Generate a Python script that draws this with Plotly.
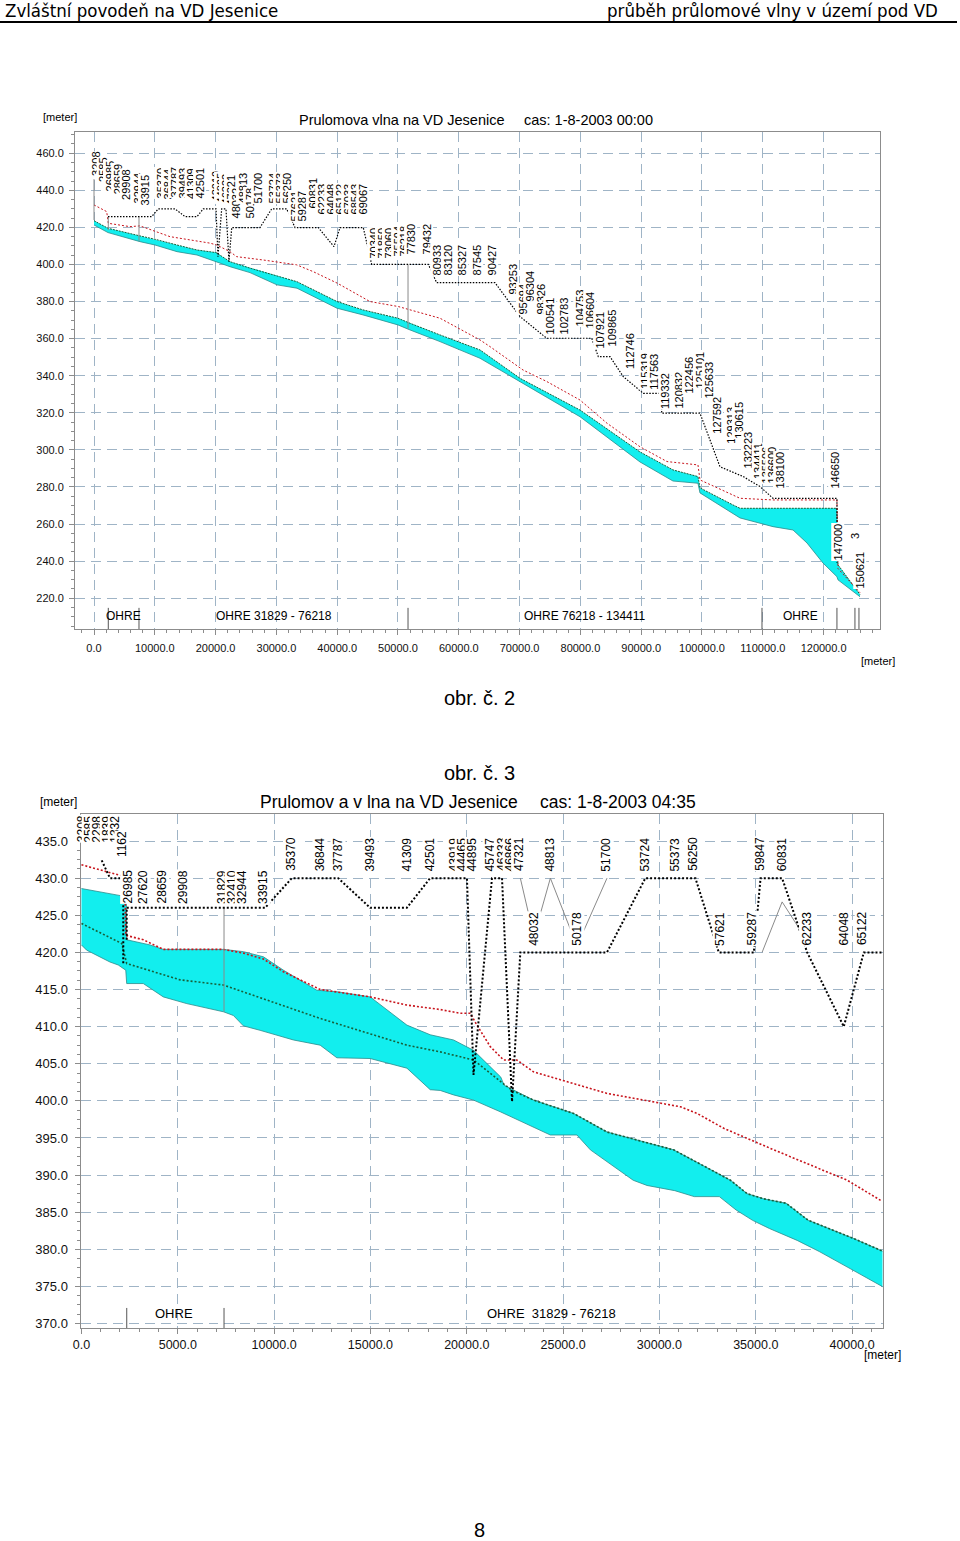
import plotly.graph_objects as go

FONT = "Liberation Sans, Arial, Helvetica, sans-serif"
NARROW = "Liberation Sans Narrow, Arial Narrow, DejaVu Sans Condensed, sans-serif"

# ================= Chart 1 (obr. c. 2) : whole reach =================
c1_bed_x = [0, 2300, 7570, 10030, 13650, 16940, 20070, 22370, 25660, 30100, 33390, 39970, 44240,
            50000, 51970, 56910, 63490, 70070, 79930, 89800, 95230, 99340, 99670, 106250, 109540,
            111680, 114970, 117270, 119900, 122200, 122370, 125990]
c1_bed_y = [421.3, 417.2, 412.3, 410.5, 406.9, 405.1, 401.5, 398.8, 395.6, 389.0, 387.2, 376.4, 372.8,
            367.4, 364.7, 358.4, 349.4, 336.8, 317.9, 293.5, 283.2, 282.0, 276.8, 263.3, 260.6,
            258.6, 256.8, 249.8, 239.0, 231.6, 229.9, 220.8]
c1_ws_x = [0, 2300, 7570, 10030, 13650, 16940, 20070, 22370, 25660, 30100, 33390, 39970, 44240,
           50000, 51970, 56910, 63490, 70070, 79930, 89800, 95230, 99340, 99670, 105100, 106250,
           122200, 122370, 125990]
c1_ws_y = [423.6, 419.5, 415.4, 413.6, 410.5, 407.8, 406.4, 401.5, 398.0, 393.8, 390.7, 380.0, 375.5,
           371.0, 368.3, 362.0, 353.9, 338.6, 321.5, 298.9, 289.2, 285.6, 279.5, 270.3, 268.5,
           268.5, 238.0, 222.0]
c1_max_x = [0, 2090, 2350, 5920, 7570, 12500, 19080, 20180, 22370, 23470, 27850, 33340, 36070, 40020,
            45390, 50050, 56910, 63490, 65130, 70560, 74510, 79930, 84370, 89800, 94240, 99340, 99670,
            106250, 111680, 122200, 122370, 125990]
c1_max_y = [432.1, 428.5, 422.2, 420.4, 420.8, 415.0, 411.5, 410.5, 406.9, 404.2, 402.4, 399.8, 396.1,
            389.9, 380.0, 377.3, 371.0, 359.3, 355.7, 343.1, 336.8, 326.9, 314.4, 301.7, 293.7, 291.9,
            283.8, 273.9, 273.0, 273.0, 236.0, 223.0]
c1_lead_x = [2300, 9490, 10580, 13320, 14970, 16940, 17980, 20070, 20390, 21000, 21710, 22200, 22650,
             27300, 29230, 31690, 33060, 36890, 39470, 40460, 44290, 45670, 54980, 56360, 65950, 70070,
             74460, 81860, 82950, 84870, 87060, 90350, 93370, 93370, 99670, 102960, 106790, 109540,
             111680, 122200, 122200]
c1_lead_y = [425.8, 425.8, 430, 430, 425.8, 425.8, 430, 430, 404.2, 430, 430, 401.5, 419.9,
             419.9, 430, 430, 419.9, 419.9, 409.6, 419.9, 419.9, 400.1, 400.1, 390.2, 390.2, 371.9,
             360.2, 360.2, 350.3, 350.3, 339.5, 330.5, 330.5, 319.8, 319.8, 290.9, 285.6, 280.2,
             273.9, 273.9, 239.0]
c1_struct_x = [0, 2350, 7400, 51650]
c1_struct_top = [446.0, 425.8, 425.8, 400.1]
c1_struct_bot = [424.0, 418.6, 412.5, 365.5]
c1_reach_x = [2350, 7400, 51650, 109870, 122200, 125160, 125820]
c1_reach_names = ["OHRE", "OHRE 31829 - 76218", "OHRE 76218 - 134411", "OHRE"]
c1_reach_pos = [4875, 29610, 80770, 116140]
c1_lab_text = ["3208", "2585", "26985", "28659", "29908", "32944", "33915", "35370", "36844", "37787",
               "39493", "41309", "42501", "43919", "44895", "46333", "47321", "48032", "48813", "50178",
               "51700", "53724", "55373", "56250", "57621", "59287", "60831", "62233", "64048", "65122",
               "67033", "68543", "69067", "70340", "71850", "73060", "75594", "76218", "77830", "79432",
               "80933", "83120", "85327", "87545", "90427", "93253", "95694", "96304", "98326", "100541",
               "102783", "104753", "106604", "107921", "109865", "112746", "115319", "117563", "119332",
               "120832", "122456", "125101", "125633", "127592", "129313", "130615", "132223", "134411",
               "135506", "136600", "138100", "146650", "147000", "150621", "3"]
c1_lab_x = [330, 1480, 2630, 3950, 5350, 7240, 8390, 11020, 12170, 13320, 14640, 16040, 17440, 20070,
            20890, 21710, 22540, 23360, 24510, 25660, 26980, 29450, 30600, 31750, 33060, 34220, 36030,
            37510, 38990, 40470, 41780, 42930, 44250, 45900, 47210, 48360, 50010, 51000, 52150, 54780,
            56420, 58230, 60540, 63000, 65470, 68930, 70410, 71720, 73370, 75010, 77320, 79950, 81590,
            83240, 85210, 88170, 90640, 91960, 93930, 96070, 97710, 99690, 101000, 102320, 104620,
            105940, 107580, 109230, 110540, 111530, 112850, 121890, 122390, 126010, 125160]
c1_lab_y = [447.2, 444.0, 439.1, 437.0, 434.3, 432.1, 431.0, 434.8, 434.8, 435.9, 434.8, 434.8, 434.8,
            433.2, 432.1, 432.1, 431.0, 424.0, 432.1, 424.0, 432.1, 432.1, 432.1, 432.1, 422.4, 422.4,
            429.4, 426.2, 426.2, 426.2, 426.2, 426.2, 426.2, 402.4, 402.4, 402.4, 403.5, 403.5, 404.6,
            404.6, 393.3, 393.3, 393.3, 393.3, 393.3, 383.0, 372.2, 379.3, 372.2, 361.5, 361.5, 365.8,
            364.7, 353.9, 355.0, 343.1, 332.3, 332.0, 321.5, 321.5, 329.6, 332.3, 326.9, 308.0, 302.6,
            305.3, 289.2, 283.8, 281.1, 281.1, 278.4, 278.4, 239.6, 224.5, 251.4]

# ================= Chart 2 (obr. c. 3) : first 41 km =================
c2_bed_x = [0, 270, 1480, 1910, 2300, 2348, 3210, 4250, 5465, 7366, 7886, 8405, 9273, 11003, 12390,
            13257, 14987, 16893, 18104, 18623, 19315, 20353, 21766, 23469, 24338, 25720, 26415, 28640,
            29360, 30800, 31810, 33110, 33980, 34840, 35710, 37150, 38300, 40040, 41630]
c2_bed_y = [421.0, 420.3, 418.7, 418.3, 417.6, 415.8, 415.8, 414.0, 413.1, 412.0, 411.5, 410.1, 409.5,
            408.2, 407.5, 405.8, 405.7, 404.4, 401.5, 401.4, 400.8, 400.1, 398.5, 396.5, 395.4, 395.4,
            393.4, 389.3, 388.6, 387.9, 387.1, 387.1, 385.3, 383.9, 382.8, 381.2, 379.7, 377.2, 374.9]
c2_top_x = [0, 2090, 2330, 2348, 3560, 4250, 7370, 8405, 9446, 10484, 12217, 13257, 14987, 16893,
            18104, 19315, 20353, 21766, 21940, 23469, 25547, 27283, 30740, 33690, 34550, 35420, 36580,
            37730, 40040, 41630]
c2_top_y = [428.6, 427.6, 427.5, 421.7, 421.0, 420.4, 420.4, 420.1, 419.4, 417.6, 414.9, 414.7, 414.0,
            410.2, 408.9, 408.2, 406.8, 403.2, 402.1, 400.1, 398.3, 395.8, 393.4, 389.3, 387.5, 386.8,
            386.2, 383.9, 381.5, 379.7]
c2_ws_x = [0, 2090, 2348, 5120, 7370, 12390, 16890, 18620, 20350, 21740, 22350, 23469, 25547, 27283,
           30740, 33690, 34550, 35420, 36580, 37730, 40040, 41630]
c2_ws_y = [423.9, 421.2, 418.5, 416.3, 415.6, 411.1, 407.5, 406.6, 405.5, 402.6, 401.4, 400.1, 398.3,
           395.8, 393.4, 389.3, 387.5, 386.8, 386.2, 383.9, 381.5, 379.7]
c2_max_x = [0, 2090, 2250, 2300, 3210, 4250, 7366, 8405, 9446, 10480, 12390, 14990, 16890, 18623,
            19660, 20182, 20529, 21221, 21912, 22600, 23469, 27283, 31091, 31957, 33340, 35938, 39750,
            41480]
c2_max_y = [431.8, 430.3, 430.2, 422.3, 421.7, 420.4, 420.4, 419.9, 419.1, 417.4, 415.0, 414.0, 412.9,
            412.3, 411.8, 411.8, 410.2, 407.3, 405.5, 405.5, 403.9, 401.0, 399.2, 398.3, 396.3, 393.4,
            389.3, 386.6]
c2_leadA_x = [1050, 1480, 2170, 2170]
c2_leadA_y = [432.4, 430.0, 430.0, 418.5]
c2_leadB_x = [2348, 2348, 9530, 10920, 13325, 14990, 16890, 18100, 20010, 20350, 21310, 21830, 22350,
              22780, 27280, 29270, 31870, 33080, 34900, 35250, 36370, 37670, 39570, 40610, 41580]
c2_leadB_y = [421.7, 426.0, 426.0, 430.0, 430.0, 426.0, 426.0, 430.0, 430.0, 403.5, 430.0, 430.0, 399.9,
              420.0, 420.0, 430.0, 430.0, 420.0, 420.0, 430.0, 430.0, 420.0, 410.0, 420.0, 420.0]
c2_grey_x = [22780, 23210, 23820, 24340, 25410, 26070, 27280, None, 35330, 36370, 37410, None, 7400, 7400]
c2_grey_y = [430.0, 425.2, 425.2, 430.0, 422.9, 422.9, 430.0, None, 420.0, 426.8, 422.6, None, 426.0, 412.0]
c2_reach_x = [2350, 7400]
c2_reach_names = ["OHRE", "OHRE  31829 - 76218"]
c2_reach_pos = [4805, 24390]
c2_lab_text = ["3208", "2585", "2298", "1839", "1332", "1162",
               "26985", "27620", "28659", "29908", "31829", "32410", "32944", "33915",
               "35370", "36844", "37787", "39493", "41309", "42501", "43919", "44465", "44895", "45747",
               "46333", "46866", "47321", "48813", "51700", "53724", "55373", "56250", "59847", "60831",
               "48032", "50178", "57621", "59287", "62233", "64048", "65122"]
c2_lab_x = [0, 390, 805, 1325, 1740, 2105,
            2390, 3195, 4156, 5273, 7299, 7819, 8338, 9429,
            10910, 12390, 13325, 14990, 16910, 18100, 19350, 19770, 20290, 21220, 21820, 22260, 22700,
            24340, 27250, 29270, 30830, 31770, 35250, 36370,
            23510, 25740, 33170, 34810, 37660, 39590, 40550]
c2_lab_y = [434.7, 434.7, 434.7, 434.7, 434.7, 432.7] + [426.4] * 8 + [430.8] * 20 + [420.8] * 7

CYAN = "#12eeee"
TEAL = "#2b8c8c"
GREEN = "#17603a"
RED = "#c8141c"
GREY = "#8a8a8a"

fig = go.Figure()


def line(x, y, xa, ya, color, width, dash=None):
    fig.add_trace(go.Scatter(x=x, y=y, mode="lines", xaxis=xa, yaxis=ya,
                             line=dict(color=color, width=width, dash=dash),
                             hoverinfo="skip", showlegend=False))


def band(xb, yb, xt, yt, xa, ya):
    fig.add_trace(go.Scatter(x=xb + xt[::-1], y=yb + yt[::-1], mode="lines", fill="toself",
                             fillcolor=CYAN, line=dict(width=0), xaxis=xa, yaxis=ya,
                             hoverinfo="skip", showlegend=False))


def segments(xs, y0s, y1s):
    sx, sy = [], []
    for x, a, b in zip(xs, y0s, y1s):
        sx += [x, x, None]
        sy += [a, b, None]
    return sx, sy


# ---- chart 1 traces
band(c1_bed_x, c1_bed_y, c1_ws_x, c1_ws_y, "x", "y")
line(c1_bed_x, c1_bed_y, "x", "y", TEAL, 0.8)
line(c1_ws_x, c1_ws_y, "x", "y", GREEN, 1.0, "2px,1px")
line(c1_max_x, c1_max_y, "x", "y", RED, 1.0, "2px,2px")
sx, sy = segments(c1_struct_x, c1_struct_top, c1_struct_bot)
line(sx, sy, "x", "y", GREY, 1.0)
line(c1_lead_x, c1_lead_y, "x", "y", "#000000", 1.2, "1.5px,1.5px")
sx, sy = segments(c1_reach_x, [203.4] * len(c1_reach_x), [214.8] * len(c1_reach_x))
line(sx, sy, "x", "y", "#555555", 1.0)

# ---- chart 2 traces
band(c2_bed_x, c2_bed_y, c2_top_x, c2_top_y, "x2", "y2")
line(c2_bed_x, c2_bed_y, "x2", "y2", TEAL, 0.8)
line(c2_top_x, c2_top_y, "x2", "y2", TEAL, 0.8)
line(c2_ws_x, c2_ws_y, "x2", "y2", GREEN, 1.6, "2px,2px")
line(c2_max_x, c2_max_y, "x2", "y2", RED, 1.6, "2px,2px")
line(c2_grey_x, c2_grey_y, "x2", "y2", GREY, 1.0)
line(c2_leadA_x, c2_leadA_y, "x2", "y2", "#000000", 2.0, "2px,2px")
line(c2_leadB_x, c2_leadB_y, "x2", "y2", "#000000", 2.0, "2px,2px")
sx, sy = segments(c2_reach_x, [369.4] * len(c2_reach_x), [372.1] * len(c2_reach_x))
line(sx, sy, "x2", "y2", "#555555", 1.0)

ann = []
for t, x, y in zip(c1_lab_text, c1_lab_x, c1_lab_y):
    ann.append(dict(x=x, y=y, xref="x", yref="y", text=t, textangle=-90, showarrow=False,
                    xanchor="center", yanchor="bottom", bgcolor="white", borderpad=0,
                    font=dict(family=FONT, size=11, color="#000")))
for t, x, y in zip(c2_lab_text, c2_lab_x, c2_lab_y):
    ann.append(dict(x=x, y=y, xref="x2", yref="y2", text=t, textangle=-90, showarrow=False,
                    xanchor="center", yanchor="bottom", bgcolor="white", borderpad=0,
                    font=dict(family=FONT, size=12, color="#000")))
for t, x in zip(c1_reach_names, c1_reach_pos):
    ann.append(dict(x=x, y=210.4, xref="x", yref="y", text=t, showarrow=False,
                    font=dict(family=FONT, size=12, color="#000")))
for t, x in zip(c2_reach_names, c2_reach_pos):
    ann.append(dict(x=x, y=371.4, xref="x2", yref="y2", text=t, showarrow=False,
                    font=dict(family=FONT, size=13, color="#000")))

H = 1541.0


def paper(text, px, py, size, xanchor="left", yanchor="middle", family=FONT):
    ann.append(dict(x=px / 960.0, y=1 - py / H, xref="paper", yref="paper", text=text,
                    showarrow=False, xanchor=xanchor, yanchor=yanchor,
                    font=dict(family=family, size=size, color="#000")))


paper("Zvláštní povodeň na VD Jesenice", 3, 10, 18.5, family=NARROW)
paper("průběh průlomové vlny v území pod VD", 940, 10, 18.5, xanchor="right", family=NARROW)
paper("Prulomova vlna na VD Jesenice", 297, 120, 14.5)
paper("cas: 1-8-2003 00:00", 522, 120, 14.5)
paper("[meter]", 41, 117, 11)
paper("[meter]", 897, 661, 11, xanchor="right")
paper("obr. č. 2", 479, 698, 20, xanchor="center")
paper("obr. č. 3", 479, 773, 20, xanchor="center")
paper("Prulomov a v lna na VD Jesenice", 258, 802, 17.5)
paper("cas: 1-8-2003 04:35", 538, 802, 17.5)
paper("[meter]", 38, 802, 12)
paper("[meter]", 903, 1355, 12, xanchor="right")
paper("8", 479, 1530, 20, xanchor="center")

common = dict(showline=True, mirror=True, linecolor="#8c8c8c", linewidth=1, showgrid=True,
              gridcolor="#9fb4c6", griddash="10px,6px", gridwidth=1, ticks="outside", ticklen=5,
              tickcolor="#8c8c8c", zeroline=False, tickformat=".1f", automargin=False)

fig.update_layout(
    width=960, height=1541, margin=dict(l=0, r=0, t=0, b=0, pad=0, autoexpand=False),
    paper_bgcolor="white", plot_bgcolor="white", showlegend=False,
    annotations=ann,
    shapes=[dict(type="line", xref="paper", yref="paper", x0=0, x1=957 / 960.0,
                 y0=1 - 22 / H, y1=1 - 22 / H, line=dict(color="#000", width=2))],
    xaxis=dict(domain=[75 / 960.0, 880 / 960.0], range=[-3125, 129280], dtick=10000, tick0=0,
               anchor="y", tickfont=dict(family=FONT, size=11, color="#111"), ticklabelstandoff=4,
               minor=dict(dtick=2000, ticks="outside", ticklen=3, tickcolor="#8c8c8c"), **common),
    yaxis=dict(domain=[1 - 629 / H, 1 - 131.7 / H], range=[203.4, 471.6], dtick=20, tick0=220,
               anchor="x", tickfont=dict(family=FONT, size=11, color="#111"), ticklabelstandoff=3,
               minor=dict(dtick=5, ticks="outside", ticklen=3, tickcolor="#8c8c8c"), **common),
    xaxis2=dict(domain=[80.5 / 960.0, 882.5 / 960.0], range=[-50, 41580], dtick=5000, tick0=0,
                anchor="y2", tickfont=dict(family=FONT, size=12.5, color="#111"),
                minor=dict(dtick=1000, ticks="outside", ticklen=3, tickcolor="#8c8c8c"), **common),
    yaxis2=dict(domain=[1 - 1328 / H, 1 - 814.3 / H], range=[369.4, 438.6], dtick=5, tick0=370,
                anchor="x2", tickfont=dict(family=FONT, size=13, color="#111"), ticklabelstandoff=4,
                minor=dict(dtick=1.25, ticks="outside", ticklen=3, tickcolor="#8c8c8c"), **common),
)

fig.write_html("out.html", config={"displayModeBar": False},
               post_script="document.body.style.margin='0';"
                           "document.documentElement.style.overflow='hidden';")
